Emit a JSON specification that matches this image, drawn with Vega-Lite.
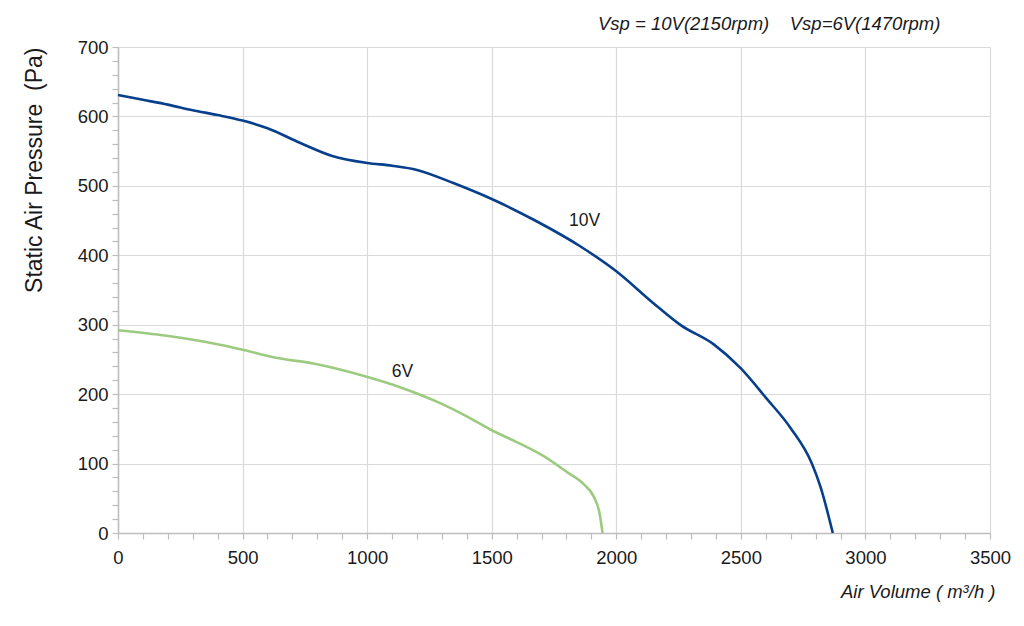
{
  "$schema": "https://vega.github.io/schema/vega-lite/v6.json",
  "autosize": "none",
  "width": 872,
  "height": 486,
  "padding": {"left": 118, "top": 47, "right": 34, "bottom": 93},
  "background": "white",
  "title": {
    "text": "Vsp = 10V(2150rpm)\u00a0\u00a0\u00a0\u00a0Vsp=6V(1470rpm)",
    "frame": "group",
    "anchor": "start",
    "dx": 480,
    "dy": 27,
    "offset": 17,
    "baseline": "alphabetic",
    "font": "Liberation Sans",
    "fontSize": 18.5,
    "fontStyle": "italic",
    "fontWeight": "normal",
    "color": "#1a1a1a"
  },
  "datasets": {
    "curves": [
      {"volume": 0, "pressure": 631, "speed": "10V"},
      {"volume": 100, "pressure": 624, "speed": "10V"},
      {"volume": 200, "pressure": 617, "speed": "10V"},
      {"volume": 300, "pressure": 609, "speed": "10V"},
      {"volume": 400, "pressure": 602, "speed": "10V"},
      {"volume": 500, "pressure": 594, "speed": "10V"},
      {"volume": 600, "pressure": 583, "speed": "10V"},
      {"volume": 730, "pressure": 562, "speed": "10V"},
      {"volume": 860, "pressure": 543, "speed": "10V"},
      {"volume": 1000, "pressure": 533, "speed": "10V"},
      {"volume": 1100, "pressure": 529, "speed": "10V"},
      {"volume": 1200, "pressure": 523, "speed": "10V"},
      {"volume": 1346, "pressure": 504, "speed": "10V"},
      {"volume": 1500, "pressure": 481, "speed": "10V"},
      {"volume": 1680, "pressure": 449, "speed": "10V"},
      {"volume": 1855, "pressure": 413, "speed": "10V"},
      {"volume": 2000, "pressure": 377, "speed": "10V"},
      {"volume": 2149, "pressure": 331, "speed": "10V"},
      {"volume": 2260, "pressure": 299, "speed": "10V"},
      {"volume": 2390, "pressure": 272, "speed": "10V"},
      {"volume": 2500, "pressure": 237, "speed": "10V"},
      {"volume": 2600, "pressure": 195, "speed": "10V"},
      {"volume": 2700, "pressure": 151, "speed": "10V"},
      {"volume": 2785, "pressure": 100, "speed": "10V"},
      {"volume": 2820, "pressure": 66, "speed": "10V"},
      {"volume": 2869, "pressure": 0, "speed": "10V"},
      {"volume": 0, "pressure": 292, "speed": "6V"},
      {"volume": 195, "pressure": 284, "speed": "6V"},
      {"volume": 369, "pressure": 274, "speed": "6V"},
      {"volume": 500, "pressure": 264, "speed": "6V"},
      {"volume": 624, "pressure": 253, "speed": "6V"},
      {"volume": 784, "pressure": 244, "speed": "6V"},
      {"volume": 998, "pressure": 225, "speed": "6V"},
      {"volume": 1132, "pressure": 210, "speed": "6V"},
      {"volume": 1293, "pressure": 187, "speed": "6V"},
      {"volume": 1400, "pressure": 168, "speed": "6V"},
      {"volume": 1500, "pressure": 148, "speed": "6V"},
      {"volume": 1600, "pressure": 131, "speed": "6V"},
      {"volume": 1707, "pressure": 111, "speed": "6V"},
      {"volume": 1801, "pressure": 88, "speed": "6V"},
      {"volume": 1870, "pressure": 70, "speed": "6V"},
      {"volume": 1910, "pressure": 52, "speed": "6V"},
      {"volume": 1932, "pressure": 30, "speed": "6V"},
      {"volume": 1945, "pressure": 0, "speed": "6V"}
    ],
    "labels": [
      {"volume": 1873, "pressure": 450, "label": "10V"},
      {"volume": 1142, "pressure": 232, "label": "6V"}
    ]
  },
  "encoding": {
    "x": {
      "field": "volume",
      "type": "quantitative",
      "scale": {"domain": [0, 3500], "nice": false},
      "axis": {
        "title": "Air Volume ( m³/h )",
        "values": [0, 100, 200, 300, 400, 500, 600, 700, 800, 900, 1000, 1100, 1200, 1300, 1400, 1500, 1600, 1700, 1800, 1900, 2000, 2100, 2200, 2300, 2400, 2500, 2600, 2700, 2800, 2900, 3000, 3100, 3200, 3300, 3400, 3500],
        "labelExpr": "datum.value % 500 === 0 ? datum.label : ''",
        "format": "d",
        "gridOpacity": {"condition": {"test": "datum.value % 500 === 0", "value": 1}, "value": 0},
        "labelPadding": 9,
        "titleX": 877,
        "titleY": 64,
        "titleAlign": "right",
        "titleAnchor": null,
        "titleBaseline": "alphabetic",
        "titleFontStyle": "italic"
      }
    },
    "y": {
      "field": "pressure",
      "type": "quantitative",
      "scale": {"domain": [0, 700], "nice": false},
      "axis": {
        "title": "Static Air Pressure\u00a0\u00a0(Pa)",
        "values": [0, 20, 40, 60, 80, 100, 120, 140, 160, 180, 200, 220, 240, 260, 280, 300, 320, 340, 360, 380, 400, 420, 440, 460, 480, 500, 520, 540, 560, 580, 600, 620, 640, 660, 680, 700],
        "labelExpr": "datum.value % 100 === 0 ? datum.label : ''",
        "format": "d",
        "gridOpacity": {"condition": {"test": "datum.value % 100 === 0", "value": 1}, "value": 0},
        "labelPadding": 4,
        "titleX": -84,
        "titleY": 0,
        "titleAlign": "right",
        "titleAnchor": null,
        "titleBaseline": "middle",
        "titleFontSize": 23
      }
    }
  },
  "layer": [
    {
      "data": {"name": "curves"},
      "mark": {"type": "line", "interpolate": "monotone", "strokeWidth": 2.6},
      "encoding": {
        "color": {
          "field": "speed",
          "type": "nominal",
          "scale": {"domain": ["10V", "6V"], "range": ["#073f8c", "#9ccb80"]},
          "legend": null
        }
      }
    },
    {
      "data": {"name": "labels"},
      "mark": {"type": "text", "font": "Liberation Sans", "fontSize": 17.5, "color": "#1a1a1a"},
      "encoding": {
        "text": {"field": "label", "type": "nominal"}
      }
    }
  ],
  "config": {
    "view": {"stroke": null},
    "axis": {
      "labelFont": "Liberation Sans",
      "labelFontSize": 18.5,
      "labelColor": "#1a1a1a",
      "titleFont": "Liberation Sans",
      "titleFontSize": 18.5,
      "titleFontWeight": "normal",
      "titleColor": "#1a1a1a",
      "domainColor": "#bdbdbd",
      "domainWidth": 1.5,
      "tickColor": "#bdbdbd",
      "tickSize": 6,
      "tickWidth": 1.2,
      "gridColor": "#dadada",
      "gridWidth": 1.2,
      "labelFlush": false,
      "labelOverlap": false
    }
  }
}
